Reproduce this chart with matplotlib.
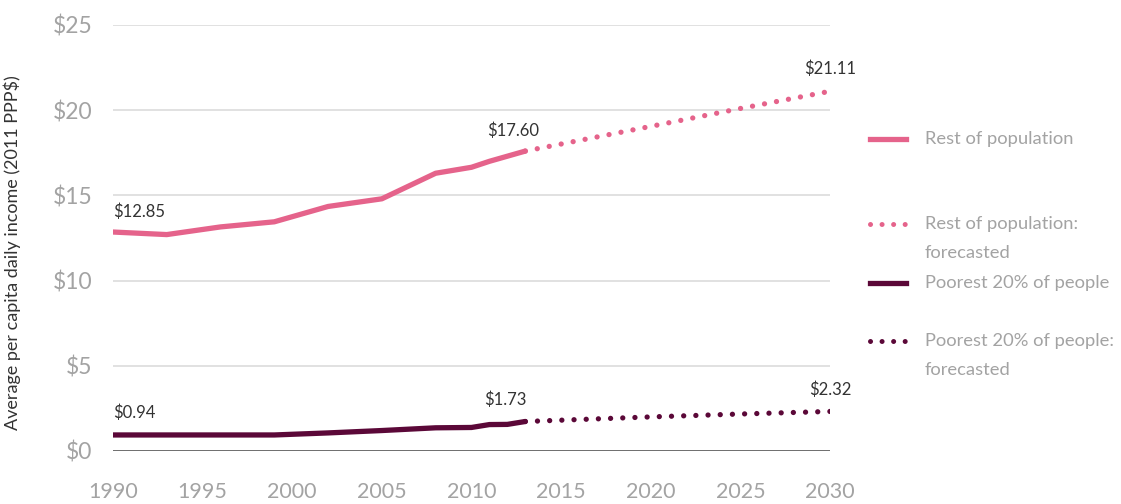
import matplotlib.pyplot as plt
from matplotlib.lines import Line2D

plt.rcParams['font.family'] = ['Lato', 'DejaVu Sans']

# Data
years_hist = [1990, 1993, 1996, 1999, 2002, 2005, 2008, 2010, 2011, 2012, 2013]
rest_hist = [12.85, 12.70, 13.15, 13.45, 14.35, 14.80, 16.30, 16.65, 17.00, 17.30, 17.60]
poor_hist = [0.94, 0.94, 0.94, 0.94, 1.06, 1.20, 1.36, 1.38, 1.55, 1.56, 1.73]

years_fc = [2013, 2020, 2025, 2030]
rest_fc = [17.60, 19.05, 20.10, 21.11]
poor_fc = [1.73, 2.00, 2.17, 2.32]

yticks = [0, 5, 10, 15, 20, 25]
xticks = [1990, 1995, 2000, 2005, 2010, 2015, 2020, 2025, 2030]

pink = '#e5638b'
purple = '#5b0838'
grey_txt = '#a3a3a3'
dark_txt = '#333333'

fig = plt.figure(figsize=(11.21, 5.04), dpi=100)
ax = fig.add_axes([0.1008, 0.1052, 0.6396, 0.8452])

# grid lines
for v in yticks[1:]:
    ax.axhline(v, color='#dcdcdc', lw=1.2, zorder=0)
ax.axhline(0, color='#555555', lw=1.2, zorder=1)

dot_style = (0, (0.01, 2.3))
ax.plot(years_hist, rest_hist, color=pink, lw=3.8, solid_capstyle='round', zorder=3)
ax.plot(years_fc, rest_fc, color=pink, lw=3.8, linestyle=dot_style,
        dash_capstyle='round', zorder=3)
ax.plot(years_hist, poor_hist, color=purple, lw=3.8, solid_capstyle='round', zorder=3)
ax.plot(years_fc, poor_fc, color=purple, lw=3.8, linestyle=dot_style,
        dash_capstyle='round', zorder=3)

# value labels
ax.text(years_hist[0], rest_hist[0] + 1.2, '$%.2f' % rest_hist[0], fontsize=12,
        color=dark_txt, ha='left', va='center')
ax.text(years_hist[-1] - 0.7, rest_hist[-1] + 1.2, '$%.2f' % rest_hist[-1], fontsize=12,
        color=dark_txt, ha='center', va='center')
ax.text(years_fc[-1], rest_fc[-1] + 1.3, '$%.2f' % rest_fc[-1], fontsize=12,
        color=dark_txt, ha='center', va='center')
ax.text(years_hist[0], poor_hist[0] + 1.3, '$%.2f' % poor_hist[0], fontsize=12,
        color=dark_txt, ha='left', va='center')
ax.text(years_hist[-1] - 1.1, poor_hist[-1] + 1.3, '$%.2f' % poor_hist[-1], fontsize=12,
        color=dark_txt, ha='center', va='center')
ax.text(years_fc[-1], poor_fc[-1] + 1.3, '$%.2f' % poor_fc[-1], fontsize=12,
        color=dark_txt, ha='center', va='center')

ax.set_xlim(1990, 2030)
ax.set_ylim(0, 25)
ax.set_xticks(xticks)
ax.set_yticks(yticks)
ax.set_yticklabels(['$%d' % v for v in yticks])
ax.tick_params(length=0, labelcolor=grey_txt)
ax.tick_params(axis='x', pad=22, labelsize=15.5)
ax.tick_params(axis='y', pad=15, labelsize=16.5)
for s in ax.spines.values():
    s.set_visible(False)
ax.set_ylabel('Average per capita daily income (2011 PPP$)', fontsize=13,
              color=dark_txt)
ax.yaxis.set_label_coords(-0.128, 0.465)

# legend drawn by hand so the handle sits on the first text line
legend_rows = [
    (0.733, pink, '-', ['Rest of population']),
    (0.533, pink, dot_style, ['Rest of population:', 'forecasted']),
    (0.394, purple, '-', ['Poorest 20% of people']),
    (0.258, purple, dot_style, ['Poorest 20% of people:', 'forecasted']),
]
for ypos, col, ls, lines in legend_rows:
    ax.add_line(Line2D([1.056, 1.106], [ypos, ypos], transform=ax.transAxes,
                       color=col, lw=3.8 if ls == '-' else 3.6, linestyle=ls,
                       dash_capstyle='round', clip_on=False))
    for i, t in enumerate(lines):
        ax.text(1.1325, ypos - i * 0.068, t, transform=ax.transAxes, fontsize=13.2,
                color=grey_txt, ha='left', va='center')

fig.savefig('out.png', dpi=100)
